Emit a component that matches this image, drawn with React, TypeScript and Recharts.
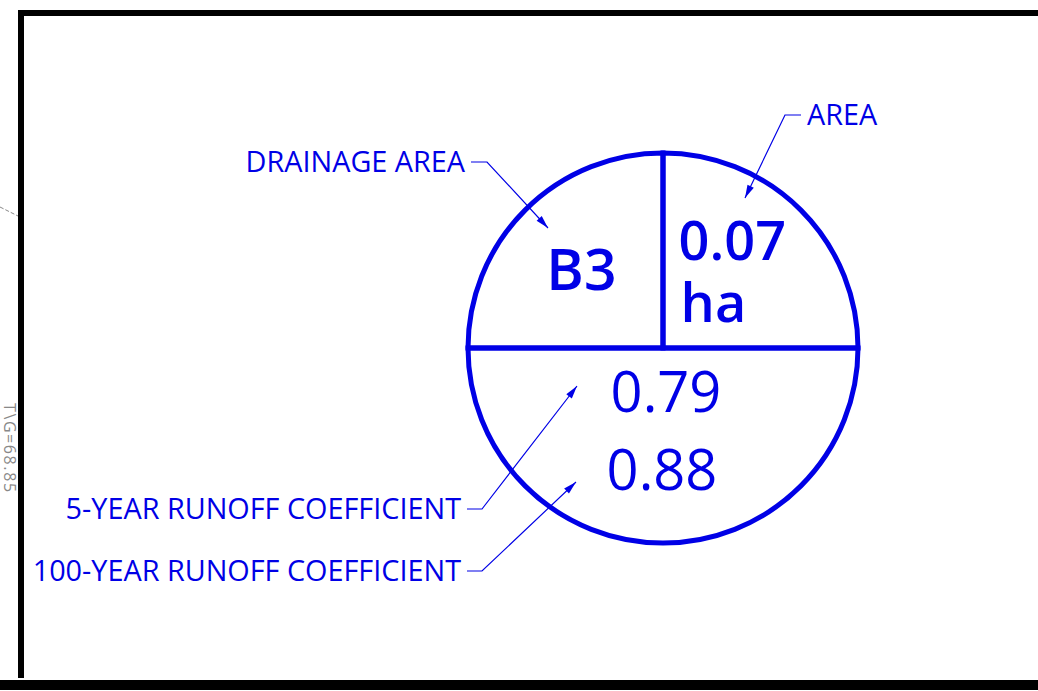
import { PieChart, Pie, Cell, Customized } from "recharts";

// pie slices: the three compartments of the drainage tag (angle shares)
const sliceNames = ["AREA", "DRAINAGE AREA", "RUNOFF"];
const sliceShares = [25, 25, 50];

// tag values
const drainageId = "B3";
const areaValue = ["0.07", "ha"];
const runoffValues = ["0.79", "0.88"];

// callout texts
const calloutLabels = [
  "DRAINAGE AREA",
  "AREA",
  "5-YEAR RUNOFF COEFFICIENT",
  "100-YEAR RUNOFF COEFFICIENT",
];
const sideNote = "T\\G=68.85";

const W = 1038;
const H = 691;
const CX = 663;
const CY = 348;
const R = 195;
const BLUE = "#0000e6";
const FONT = "'Open Sans', sans-serif";
const RADIAN = Math.PI / 180;

const pieData = sliceNames.map((name, i) => ({ name, value: sliceShares[i] }));

// leader geometry, relative to the tag centre: shoulder start, shoulder end, arrow tip
const leaders = [
  { from: [-192, -186], knee: [-176, -186], tip: [-115, -120], side: "left" },
  { from: [138, -233], knee: [122, -233], tip: [82, -150], side: "right" },
  { from: [-196, 161], knee: [-181, 161], tip: [-86, 38], side: "left" },
  { from: [-196, 223], knee: [-181, 223], tip: [-87, 134], side: "left" },
];

const renderLabel = (props: any) => {
  const { cx, cy, midAngle, outerRadius, index } = props;
  const k = index === 2 ? 0.45 : 0.57;
  const x = cx + outerRadius * k * Math.cos(-midAngle * RADIAN);
  const y = cy + outerRadius * k * Math.sin(-midAngle * RADIAN);
  if (index === 1) {
    return (
      <text x={x - 3} y={y + 21} textAnchor="middle" fill={BLUE} fontFamily={FONT} fontWeight={600} fontSize={57}>
        {drainageId}
      </text>
    );
  }
  if (index === 0) {
    return (
      <g fontFamily={FONT} fontWeight={600} fontSize={54} fill={BLUE}>
        <text x={x - 63} y={y - 9}>{areaValue[0]}</text>
        <text x={x - 61} y={y + 53}>{areaValue[1]}</text>
      </g>
    );
  }
  return (
    <g fontFamily={FONT} fontSize={56} fill={BLUE} textAnchor="middle">
      <text x={x + 3} y={y - 24}>{runoffValues[0]}</text>
      <text x={x - 1} y={y + 54}>{runoffValues[1]}</text>
    </g>
  );
};

const Callouts = () => (
  <g>
    {leaders.map((l, i) => {
      const fx = CX + l.from[0];
      const fy = CY + l.from[1];
      const kx = CX + l.knee[0];
      const ky = CY + l.knee[1];
      const tx = CX + l.tip[0];
      const ty = CY + l.tip[1];
      const len = Math.hypot(tx - kx, ty - ky);
      const ux = (tx - kx) / len;
      const uy = (ty - ky) / len;
      const bx = tx - ux * 13;
      const by = ty - uy * 13;
      const head = `${tx},${ty} ${bx - uy * 3.5},${by + ux * 3.5} ${bx + uy * 3.5},${by - ux * 3.5}`;
      const left = l.side === "left";
      return (
        <g key={i}>
          <polyline points={`${fx},${fy} ${kx},${ky} ${tx},${ty}`} fill="none" stroke={BLUE} strokeWidth={1.2} />
          <polygon points={head} fill={BLUE} />
          <text
            x={left ? fx - 6 : fx + 6}
            y={fy + 10}
            textAnchor={left ? "end" : "start"}
            fill={BLUE}
            fontFamily={FONT}
            fontSize={28.8}
          >
            {calloutLabels[i]}
          </text>
        </g>
      );
    })}
  </g>
);

const Frame = () => (
  <g>
    <rect x={0} y={0} width={W} height={H} fill="#fff" />
    <line x1={18} y1={13} x2={W} y2={13} stroke="#000" strokeWidth={6} />
    <line x1={21} y1={10} x2={21} y2={678} stroke="#000" strokeWidth={6} />
    <line x1={0} y1={685} x2={W} y2={685} stroke="#000" strokeWidth={10} />
    <line x1={0} y1={207} x2={18} y2={216} stroke="#888" strokeWidth={1} strokeDasharray="4 2" />
    <text
      x={4}
      y={403}
      transform="rotate(90 4 403)"
      fill="#888"
      fontFamily={FONT}
      fontSize={16}
      letterSpacing={1.6}
    >
      {sideNote}
    </text>
  </g>
);

export default function App() {
  return (
    <div style={{ position: "absolute", left: 0, top: 0, background: "#fff" }}>
      <PieChart width={W} height={H} margin={{ top: 0, right: 0, bottom: 0, left: 0 }}>
        <Customized component={Frame} />
        <Customized component={Callouts} />
        <Pie
          data={pieData}
          dataKey="value"
          nameKey="name"
          cx={CX}
          cy={CY}
          innerRadius={0}
          outerRadius={R}
          startAngle={0}
          endAngle={360}
          stroke={BLUE}
          strokeWidth={5}
          label={renderLabel}
          labelLine={false}
          isAnimationActive={false}
        >
          {pieData.map((d) => (
            <Cell key={d.name} fill="none" />
          ))}
        </Pie>
      </PieChart>
    </div>
  );
}
